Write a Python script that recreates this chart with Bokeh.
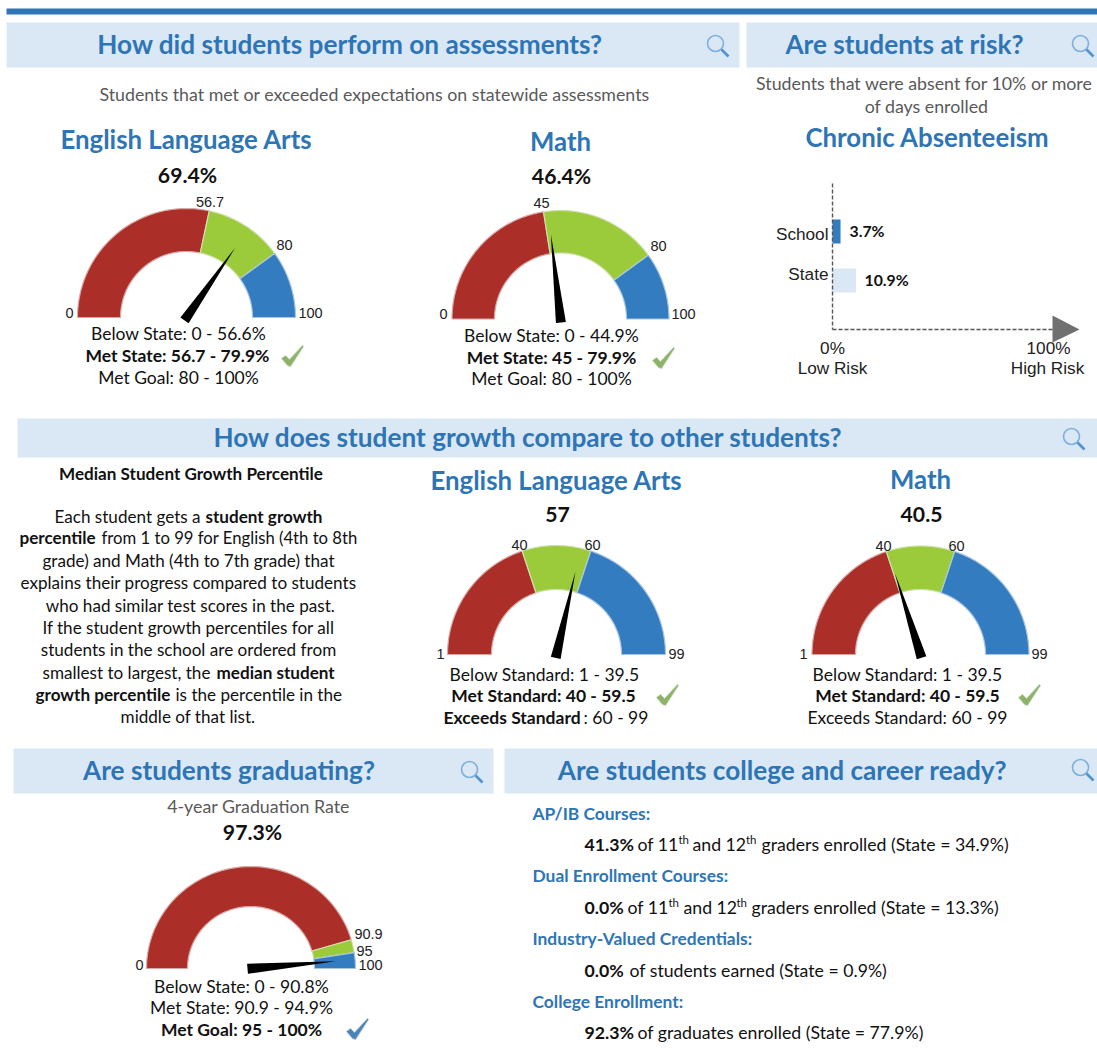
import math
from bokeh.plotting import figure
from bokeh.core.properties import value
from bokeh.embed import file_html
from bokeh.resources import INLINE

# ---- data ----
ela_value = 69.4
ela_breaks = [0, 56.7, 80, 100]
math_value = 46.4
math_breaks = [0, 45, 80, 100]
ela_growth_value = 57
ela_growth_breaks = [1, 40, 60, 99]
math_growth_value = 40.5
math_growth_breaks = [1, 40, 60, 99]
grad_value = 97.3
grad_breaks = [0, 90.9, 95, 100]
absent_categories = ["School", "State"]
absent_values = [3.7, 10.9]

RED, GREEN, BLUE = "#AB2F28", "#9BCB3B", "#337CC0"
BAND, TITLE = "#DAE8F5", "#2E75B6"
GREY = "#595959"
BODY = "Lato"
ARIAL = "Liberation Sans"

p = figure(width=1097, height=1055, x_range=(0, 1097), y_range=(1055, 0),
           output_backend="svg", toolbar_location=None, tools="",
           margin=(0, 0, 0, 0), min_border=0)
p.axis.visible = False
p.grid.visible = False
p.outline_line_color = None
p.background_fill_color = "white"


def T(x, y, s, size, color="#111111", bold=False, font=BODY, align="center"):
    dy = -1.8 if size > 20 else -1.0
    p.text(x=[x], y=[y + dy], text=[s], text_font=value(font),
           text_font_size=value(f"{size}px"),
           text_font_style="bold" if bold else "normal",
           text_color=color, text_align=align, text_baseline="middle")


def band(x0, x1, y0, y1):
    p.quad(left=[x0], right=[x1], top=[y0], bottom=[y1], fill_color=BAND, line_color=None)


def lens(cx, cy):
    p.scatter(x=[cx], y=[cy], size=16, marker="circle", fill_color=None,
              line_color="#7FB0DC", line_width=1.6)
    p.segment(x0=[cx + 6], y0=[cy + 6], x1=[cx + 13], y1=[cy + 13],
              line_color="#4F93CF", line_width=2.6)


def check(cx, cy, color, edge):
    sx = [-11, -7, -3, 10, 11, -2, -5]
    sy = [2, -1, 3, -11, -10, 10, 9]
    p.patch(x=[cx + a for a in sx], y=[cy + b for b in sy], fill_color=color,
            line_color=edge, line_width=0.8)


def gauge(cx, cy, rx, ry, irx, iry, breaks, val):
    lo, hi = breaks[0], breaks[-1]
    th = lambda v: math.pi * (1 - (v - lo) / (hi - lo))
    for a, b, col, edge in zip(breaks[:-1], breaks[1:], (RED, GREEN, BLUE),
                               ("#D9A8A5", "#CFE0AF", "#A9C6E3")):
        n = 60
        ts = [th(a) + (th(b) - th(a)) * i / n for i in range(n + 1)]
        xs = [cx + rx * math.cos(t) for t in ts] + [cx + irx * math.cos(t) for t in reversed(ts)]
        ys = [cy - ry * math.sin(t) for t in ts] + [cy - iry * math.sin(t) for t in reversed(ts)]
        p.patch(x=xs, y=ys, fill_color=col, line_color=edge, line_width=1.2)
    t = th(val)
    L, back, hw = 85, 3.5, 5
    ux, uy = math.cos(t), -math.sin(t)
    vx, vy = -uy, ux
    p.patch(x=[cx + L * ux, cx - back * ux + hw * vx, cx - back * ux - hw * vx],
            y=[cy + L * uy, cy - back * uy + hw * vy, cy - back * uy - hw * vy],
            fill_color="black", line_color=None)


# ---- top bar and header bands ----
p.quad(left=[6], right=[1097], top=[8], bottom=[14], fill_color=TITLE, line_color=None)
band(6, 739, 22, 67)
band(746, 1097, 22, 67)
band(17, 1097, 418, 457)
band(13, 493, 748, 793)
band(504, 1097, 748, 793)
for cx, cy in ((715, 43), (1080, 43), (1071, 436), (469, 769), (1080, 767)):
    lens(cx, cy)

H = 26.2
T(349.5, 45, "How did students perform on assessments?", H, TITLE, True)
T(904, 45, "Are students at risk?", H, TITLE, True)
T(527.5, 438, "How does student growth compare to other students?", H, TITLE, True)
T(228.5, 771, "Are students graduating?", H, TITLE, True)
T(782, 771, "Are students college and career ready?", H, TITLE, True)

S = 17.8
T(374, 94, "Students that met or exceeded expectations on statewide assessments", S, GREY)
T(924, 83, "Students that were absent for 10% or more", S, GREY)
T(926, 106, "of days enrolled", S, GREY)
T(258, 806, "4-year Graduation Rate", S, GREY)

SUB = 25.8
T(186, 140, "English Language Arts", SUB, TITLE, True)
T(560, 142, "Math", SUB, TITLE, True)
T(927, 138, "Chronic Absenteeism", SUB, TITLE, True)
T(556, 481, "English Language Arts", SUB, TITLE, True)
T(920, 480, "Math", SUB, TITLE, True)

V = 21.2
T(187, 176, f"{ela_value}%", V, "#111111", True)
T(561, 177, f"{math_value}%", V, "#111111", True)
T(557, 516, f"{ela_growth_value}", V, "#111111", True)
T(921, 516, f"{math_growth_value}", V, "#111111", True)
T(252, 833, f"{grad_value}%", V, "#111111", True)

# ---- gauges ----
gauge(186, 317, 109, 109, 66, 66, ela_breaks, ela_value)
gauge(560, 318.5, 108.5, 108.5, 66, 66, math_breaks, math_value)
gauge(556, 654, 109, 109, 65, 65, ela_growth_breaks, ela_growth_value)
gauge(920, 654, 108.5, 108.5, 65, 65, math_growth_breaks, math_growth_value)
gauge(250.5, 968, 104.5, 102, 63.5, 62, grad_breaks, grad_value)

G = 14.5
for x, y, s in ((69, 313, "0"), (209.5, 202, "56.7"), (284, 245, "80"), (310, 313, "100"),
                (443, 314, "0"), (541, 203, "45"), (658, 246, "80"), (683, 314, "100"),
                (440, 654, "1"), (519, 545, "40"), (592, 545, "60"), (676, 654, "99"),
                (803, 654, "1"), (883, 546, "40"), (956, 546, "60"), (1039, 654, "99"),
                (139, 965, "0"), (368, 934, "90.9"), (364, 951, "95"), (370, 965, "100")):
    T(x, y, s, G, "#222222", False, ARIAL)

L = 17.5
T(178, 334, "Below State: 0 - 56.6%", L)
T(177, 356, "Met State: 56.7 - 79.9%", L, "#111111", True)
T(178, 378, "Met Goal: 80 - 100%", L)
T(551, 336, "Below State: 0 - 44.9%", L)
T(551, 357.5, "Met State: 45 - 79.9%", L, "#111111", True)
T(551, 379, "Met Goal: 80 - 100%", L)
T(544, 675, "Below Standard: 1 - 39.5", L)
T(543, 696, "Met Standard: 40 - 59.5", L, "#111111", True)
T(443, 718, "Exceeds Standard", L, "#111111", True, align="left")
T(583, 718, ": 60 - 99", L, align="left")
T(907, 675, "Below Standard: 1 - 39.5", L)
T(907, 696, "Met Standard: 40 - 59.5", L, "#111111", True)
T(907, 718, "Exceeds Standard: 60 - 99", L)
T(241, 987, "Below State: 0 - 90.8%", L)
T(241, 1008, "Met State: 90.9 - 94.9%", L)
T(241, 1030, "Met Goal: 95 - 100%", L, "#111111", True)

for cx, cy in ((292, 356), (663, 358), (667, 695), (1029, 695)):
    check(cx, cy, "#8DB36B", "#B9CFA6")
check(357, 1029, "#4A83B5", "#9DBDD8")

# ---- paragraph ----
P = 17.1
T(190.5, 474, "Median Student Growth Percentile", P, "#111111", True)
T(54, 517, "Each student gets a", P, align="left")
T(205, 517, "student growth", P, "#111111", True, align="left")
T(19, 538, "percentile", P, "#111111", True, align="left")
T(101, 538, "from 1 to 99 for English (4th to 8th", 16.7, align="left")
T(188, 561, "grade) and Math (4th to 7th grade) that", P)
T(188, 583, "explains their progress compared to students", P)
T(190, 606, "who had similar test scores in the past.", P)
T(188, 628, "If the student growth percentiles for all", P)
T(188, 650, "students in the school are ordered from", P)
T(42, 673, "smallest to largest, the", P, align="left")
T(216, 673, "median student", P, "#111111", True, align="left")
T(35, 695, "growth percentile", P, "#111111", True, align="left")
T(175, 695, "is the percentile in the", P, align="left")
T(187.5, 717, "middle of that list.", P)

# ---- chronic absenteeism bars ----
X0, PER = 832, 2.17
p.quad(left=[X0, X0], right=[X0 + PER * v for v in absent_values], top=[219, 268], bottom=[243, 292],
       fill_color=[BLUE, BAND], line_color=None)
p.segment(x0=[X0, X0], y0=[183, 329], x1=[X0, 1060], y1=[329, 329],
          line_color="#555555", line_width=1.4, line_dash="4 2")
p.patch(x=[1052, 1052, 1079], y=[315, 342, 329], fill_color="#707070", line_color=None)
A = 17.2
T(828, 234, absent_categories[0], A, "#222222", False, ARIAL, "right")
T(828, 274, absent_categories[1], A, "#222222", False, ARIAL, "right")
T(849, 231, f"{absent_values[0]}%", 15.8, "#111111", True, align="left")
T(864, 280, f"{absent_values[1]}%", 15.8, "#111111", True, align="left")
T(832, 348, "0%", A, "#222222", False, ARIAL)
T(832, 368, "Low Risk", A, "#222222", False, ARIAL)
T(1048, 348, "100%", A, "#222222", False, ARIAL)
T(1047, 368, "High Risk", A, "#222222", False, ARIAL)

# ---- college and career ----
C = 17.7
for y, s in ((814, "AP/IB Courses:"), (876, "Dual Enrollment  Courses:"),
             (939, "Industry-Valued Credentials:"), (1002, "College Enrollment:")):
    T(532, y, s, 17.4, TITLE, True, align="left")
SUP = 11.5
T(584, 845, "41.3%", C, "#111111", True, align="left")
T(637, 845, "of 11", C, align="left")
T(678, 840, "th", SUP, align="left")
T(692, 845, "and 12", C, align="left")
T(745.5, 840, "th", SUP, align="left")
T(761, 845, "graders enrolled (State = 34.9%)", C, align="left")
T(584, 908, "0.0%", C, "#111111", True, align="left")
T(627, 908, "of 11", C, align="left")
T(668, 903, "th", SUP, align="left")
T(683, 908, "and 12", C, align="left")
T(736, 903, "th", SUP, align="left")
T(751, 908, "graders enrolled (State = 13.3%)", C, align="left")
T(584, 971, "0.0%", C, "#111111", True, align="left")
T(629, 971, "of students earned (State = 0.9%)", C, align="left")
T(584, 1033, "92.3%", C, "#111111", True, align="left")
T(637, 1033, "of graduates enrolled (State = 77.9%)", C, align="left")

open("out.html", "w").write(file_html(p, INLINE))
